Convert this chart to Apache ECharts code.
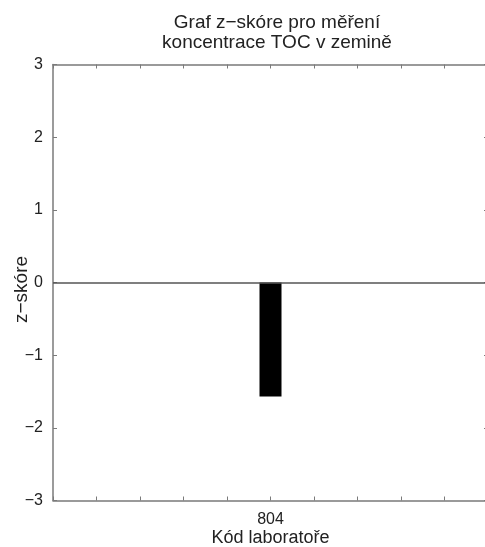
<!DOCTYPE html>
<html>
<head>
<meta charset="utf-8">
<script src="https://cdn.jsdelivr.net/npm/echarts@6/dist/echarts.min.js"></script>
<style>
  html, body { margin: 0; padding: 0; background: #fff; }
  #chart { width: 485px; height: 547px; }
</style>
</head>
<body>
<div id="chart"></div>
<script>
// data
var labCodes = ['804']
var zScores = [-1.57]
var yTicks = [-3, -2, -1, 0, 1, 2, 3]
var xSlots = 10 // number of tick intervals along x

var FONT = '"Liberation Sans", Arial, sans-serif'
var AXIS = '#7a7a7a'

var chart = echarts.init(document.getElementById('chart'))

// bar for each lab, centred on the middle tick of the axis
var barData = labCodes.map(function(code, i) {
  return [xSlots / 2 + i, zScores[i]]
})

chart.setOption({
  animation: false,
  title: {
    text: 'Graf z\u2212skóre pro měření\nkoncentrace TOC v zemině',
    left: 272,
    top: 8,
    textAlign: 'center',
    textStyle: {
      fontFamily: FONT,
      fontSize: 19,
      fontWeight: 'normal',
      color: '#222',
      lineHeight: 20
    }
  },
  grid: {
    left: 53,
    top: 64.5,
    width: 435,
    height: 436,
    containLabel: false,
    outerBoundsMode: 'none'
  },
  xAxis: [
    {
      type: 'value',
      position: 'bottom',
      min: 0,
      max: xSlots,
      interval: 1,
      name: 'Kód laboratoře',
      nameLocation: 'middle',
      nameGap: 29,
      nameMoveOverlap: false,
      nameTextStyle: { fontFamily: FONT, fontSize: 18, color: '#222' },
      axisLine: { onZero: false, lineStyle: { color: AXIS, width: 1.5 } },
      axisTick: { inside: true, length: 4, lineStyle: { color: AXIS } },
      splitLine: { show: false },
      axisLabel: {
        fontFamily: FONT,
        fontSize: 16,
        color: '#222',
        margin: 11,
        formatter: function(v) {
          var i = v - xSlots / 2
          return labCodes[i] !== undefined ? labCodes[i] : ''
        }
      }
    },
    {
      type: 'value',
      position: 'top',
      min: 0,
      max: xSlots,
      interval: 1,
      axisLine: { onZero: false, lineStyle: { color: AXIS, width: 1.5 } },
      axisTick: { inside: true, length: 4, lineStyle: { color: AXIS } },
      axisLabel: { show: false },
      splitLine: { show: false }
    }
  ],
  yAxis: [
    {
      type: 'value',
      position: 'left',
      min: yTicks[0],
      max: yTicks[yTicks.length - 1],
      interval: 1,
      name: 'z\u2212skóre',
      nameLocation: 'middle',
      nameGap: 22,
      nameMoveOverlap: false,
      nameRotate: 90,
      nameTextStyle: { fontFamily: FONT, fontSize: 19, color: '#222', padding: [0, 14, 0, 0] },
      axisLine: { show: true, onZero: false, lineStyle: { color: AXIS, width: 1.5 } },
      axisTick: { show: true, inside: true, length: 4, lineStyle: { color: AXIS } },
      splitLine: { show: false },
      axisLabel: {
        fontFamily: FONT,
        fontSize: 16,
        color: '#222',
        margin: 10,
        formatter: function(v) {
          return v < 0 ? '\u2212' + Math.abs(v) : String(v)
        }
      }
    },
    {
      type: 'value',
      position: 'right',
      min: yTicks[0],
      max: yTicks[yTicks.length - 1],
      interval: 1,
      axisLine: { show: true, onZero: false, lineStyle: { color: AXIS, width: 1.5 } },
      axisTick: { show: true, inside: true, length: 4, lineStyle: { color: AXIS } },
      axisLabel: { show: false },
      splitLine: { show: false }
    }
  ],
  series: [
    {
      type: 'bar',
      xAxisIndex: 0,
      yAxisIndex: 0,
      data: barData,
      barWidth: 22,
      itemStyle: { color: '#000' },
      markLine: {
        silent: true,
        symbol: 'none',
        label: { show: false },
        lineStyle: { color: '#555', width: 1.5, type: 'solid' },
        data: [{ yAxis: 0 }]
      }
    }
  ]
})
</script>
</body>
</html>
